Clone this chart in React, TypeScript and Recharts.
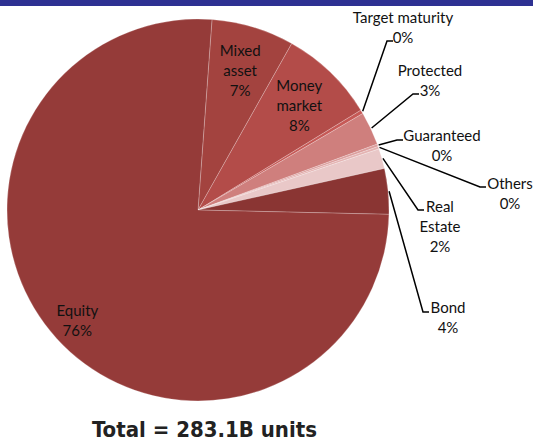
import { PieChart, Pie, Cell } from "recharts";

// fund categories, clockwise from the top
const names = [
  "Mixed asset",
  "Money market",
  "Target maturity",
  "Protected",
  "Guaranteed",
  "Others",
  "Real Estate",
  "Bond",
  "Equity",
];
// billions of units (total 283.1B)
const values = [19.8, 22.9, 0.9, 8.0, 0.6, 0.6, 4.8, 10.9, 214.6];
const labelRows = [
  ["Mixed", "asset"],
  ["Money", "market"],
  ["Target maturity"],
  ["Protected"],
  ["Guaranteed"],
  ["Others"],
  ["Real", "Estate"],
  ["Bond"],
  ["Equity"],
];
const colors = [
  "#A3433F",
  "#B34C49",
  "#C65956",
  "#CF7F7D",
  "#DC9E9D",
  "#E4B3B2",
  "#E9C8C8",
  "#8A3533",
  "#953B39",
];
const totalLabel = "Total = 283.1B units";

const data = names.map((name, i) => ({ name, value: values[i] }));

// label placement: inside radius, or elbow point + text centre for callouts
type LabelSpot =
  | { inside: true; r: number }
  | { inside: false; ex: number; ey: number; tx: number; ty: number };

const spots: LabelSpot[] = [
  { inside: true, r: 146 },
  { inside: true, r: 146 },
  { inside: false, ex: 387, ey: 41, tx: 403, ty: 17 },
  { inside: false, ex: 413, ey: 94, tx: 430, ty: 70 },
  { inside: false, ex: 397, ey: 140, tx: 442, ty: 135 },
  { inside: false, ex: 480, ey: 187, tx: 510, ty: 183 },
  { inside: false, ex: 418, ey: 210, tx: 440, ty: 206 },
  { inside: false, ex: 423, ey: 312, tx: 448, ty: 307 },
  { inside: true, r: 163 },
];

const RADIAN = Math.PI / 180;
const LINE = 20;
const FONT = "Lato, 'Liberation Sans', sans-serif";

function renderLabel(props: any) {
  const { cx, cy, midAngle, outerRadius, percent, index } = props;
  const rows = [...labelRows[index], `${Math.round(percent * 100)}%`];
  const spot = spots[index];
  const cos = Math.cos(-midAngle * RADIAN);
  const sin = Math.sin(-midAngle * RADIAN);

  const block = (x: number, y: number) => (
    <text
      x={x}
      y={y}
      textAnchor="middle"
      dominantBaseline="central"
      fill="#111"
      fontSize={15}
      fontFamily={FONT}
    >
      {rows.map((t, i) => (
        <tspan key={i} x={x} dy={i === 0 ? 0 : LINE}>
          {t}
        </tspan>
      ))}
    </text>
  );

  if (spot.inside) {
    const x = cx + spot.r * cos;
    const y = cy + spot.r * sin - ((rows.length - 1) * LINE) / 2;
    return <g key={`l-${index}`}>{block(x, y)}</g>;
  }

  const sx = cx + (outerRadius + 1) * cos;
  const sy = cy + (outerRadius + 1) * sin;
  return (
    <g key={`l-${index}`}>
      <polyline
        points={`${sx},${sy} ${spot.ex},${spot.ey} ${spot.ex + 6},${spot.ey}`}
        fill="none"
        stroke="#000"
        strokeWidth={1.5}
      />
      {block(spot.tx, spot.ty)}
    </g>
  );
}

export default function App() {
  return (
    <div
      style={{
        position: "absolute",
        left: 0,
        top: 0,
        width: 533,
        height: 441,
        background: "#fff",
        overflow: "hidden",
      }}
    >
      <div style={{ position: "absolute", left: 0, top: 0, width: 533, height: 6, background: "#2E3192" }} />
      <PieChart width={533} height={441} margin={{ top: 0, right: 0, bottom: 0, left: 0 }}>
        <Pie
          data={data}
          dataKey="value"
          nameKey="name"
          cx={198}
          cy={210}
          outerRadius={191}
          startAngle={85.8}
          endAngle={-274.2}
          stroke="#ffffff"
          strokeOpacity={0.3}
          strokeWidth={0.75}
          label={renderLabel}
          labelLine={false}
          isAnimationActive={false}
        >
          {data.map((d, i) => (
            <Cell key={d.name} fill={colors[i]} />
          ))}
        </Pie>
      </PieChart>
      <svg width={533} height={441} style={{ position: "absolute", left: 0, top: 0, pointerEvents: "none" }}>
        <text
          x={92}
          y={437}
          textLength={225}
          lengthAdjust="spacingAndGlyphs"
          fontFamily="'DejaVu Sans Condensed', 'DejaVu Sans', sans-serif"
          fontWeight="bold"
          fontSize={21}
          fill="#222"
        >
          {totalLabel}
        </text>
      </svg>
    </div>
  );
}
